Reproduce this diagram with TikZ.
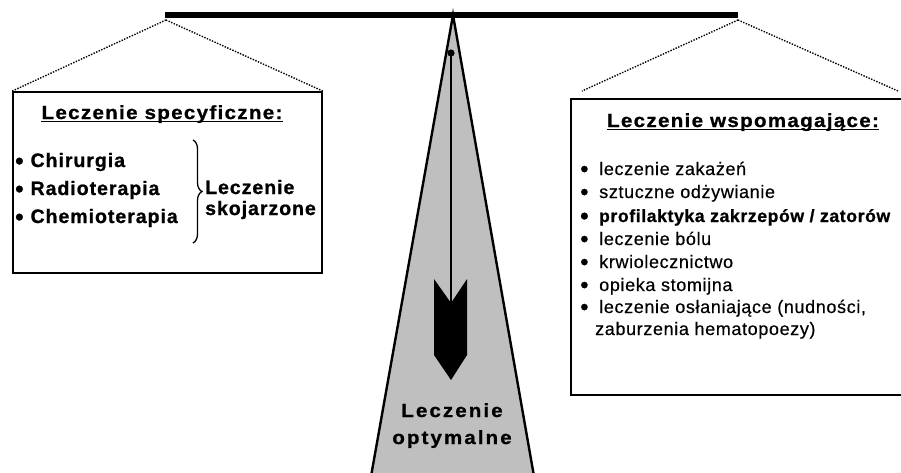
\documentclass[tikz,border=0pt]{standalone}
\usepackage{fontspec}
\setmainfont{Liberation Sans}
\newfontfamily\headfont[FakeStretch=1.08, LetterSpace=7, BoldFeatures={FakeBold=1}]{Liberation Sans}
\newfontfamily\optfont[FakeStretch=1.08, LetterSpace=11, BoldFeatures={FakeBold=1}]{Liberation Sans}
\newfontfamily\specfont[LetterSpace=5, BoldFeatures={FakeBold=1}]{Liberation Sans}
\newfontfamily\carefont[LetterSpace=3.5, FakeBold=0.4, BoldFeatures={FakeBold=1}]{Liberation Sans}
\usetikzlibrary{decorations.pathreplacing}

\newcommand{\bul}[1][7pt]{\raisebox{-2pt}[0pt][0pt]{\fontsize{24}{24}\selectfont\textbullet}\hspace{#1}}

\tikzset{
    panel/.style={draw, line width=1.8pt, inner sep=0pt},
    heading/.style={font=\headfont\bfseries\fontsize{19}{21}\selectfont, inner sep=0pt, anchor=base},
    spec/.style={font=\specfont\bfseries\fontsize{19.5}{22}\selectfont, inner sep=0pt, anchor=base west},
    care/.style={font=\carefont\fontsize{18}{20}\selectfont, inner sep=0pt, anchor=base west},
    opt/.style={font=\optfont\bfseries\fontsize{19}{21}\selectfont, inner sep=0pt, anchor=base},
    hang/.style={dash pattern=on 1.4pt off 1.4pt, line width=1.4pt},
    uline/.style={line width=1.8pt},
}

\begin{document}
\begin{tikzpicture}[x=1pt, y=-1pt]
    \useasboundingbox (0,0) rectangle (901,472);

    \coordinate (pivot) at (453,15);
    \coordinate (beamL) at (165,15);
    \coordinate (beamR) at (738,15);
    \coordinate (hookL) at (166,20);
    \coordinate (hookR) at (738,20);

    % pillar
    \draw[line width=2.4pt, fill=black!25] (pivot) -- (370,482) -- (535,482) -- cycle;
    \draw[line width=6pt] (beamL) -- (beamR);

    % pointer
    \coordinate (bob) at (451,53);
    \coordinate (notch) at (451,303);
    \draw[line width=1.4pt] (bob) -- (notch);
    \fill (bob) circle (3.6);
    \fill (434,279) -- (notch) -- (467,279) -- (467,355) -- (451,380) -- (434,355) -- cycle;

    \node[opt] (optA) at (452,417) {Leczenie};
    \node[opt] (optB) at (452,444) {optymalne};

    % left pan
    \node[panel, minimum width=309, minimum height=181] (specbox) at (167.5,182.5) {};
    \draw[hang] (hookL) -- (specbox.north west);
    \draw[hang] (hookL) -- (specbox.north east);

    \node[heading] (spectitle) at (162,119) {Leczenie specyficzne:};
    \draw[uline] ([yshift=-2.5pt]spectitle.base west) -- ([yshift=-2.5pt]spectitle.base east);

    \node[spec] (chir) at (15,167) {\bul Chirurgia};
    \node[spec] (radio) at (15,195) {\bul Radioterapia};
    \node[spec] (chemo) at (15,223) {\bul Chemioterapia};

    \draw[decorate, decoration={brace, amplitude=9pt}, line width=1.3pt] (193,140) -- (193,243);
    \node[spec] (combA) at (205,194) {Leczenie};
    \node[spec] (combB) at (205,215) {skojarzone};

    % right pan
    \node[panel, minimum width=336, minimum height=296] (carebox) at (739,247) {};
    \draw[hang] (hookR) -- (582,91);
    \draw[hang] (hookR) -- (898,91);

    \node[heading] (caretitle) at (743,127) {Leczenie wspomagające:};
    \draw[uline] ([yshift=-2.5pt]caretitle.base west) -- ([yshift=-2.5pt]caretitle.base east);

    \node[care] (c1) at (580,175) {\bul[5pt] leczenie zakażeń};
    \node[care] (c2) at (580,198) {\bul[5pt] sztuczne odżywianie};
    \node[care, font=\carefont\bfseries\fontsize{17.6}{20}\selectfont] (c3) at (580,222) {\bul[5pt] profilaktyka zakrzepów / zatorów};
    \node[care] (c4) at (580,245) {\bul[5pt] leczenie bólu};
    \node[care] (c5) at (580,268) {\bul[5pt] krwiolecznictwo};
    \node[care] (c6) at (580,291) {\bul[5pt] opieka stomijna};
    \node[care] (c7) at (580,313) {\bul[5pt] leczenie osłaniające (nudności,};
    \node[care] (c8) at (595,335) {zaburzenia hematopoezy)};
\end{tikzpicture}
\end{document}
